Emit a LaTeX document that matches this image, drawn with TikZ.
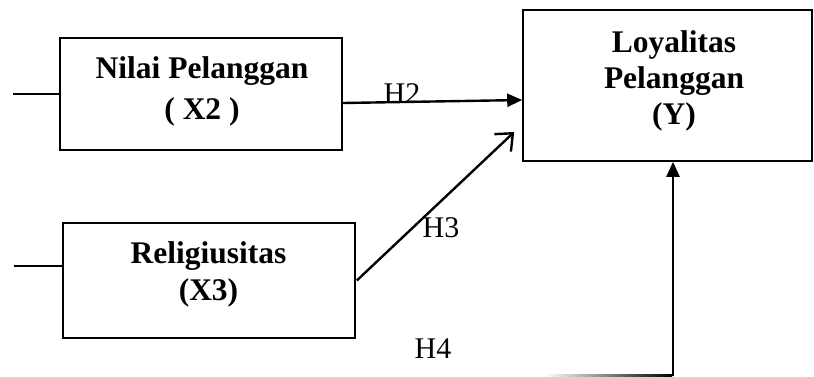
\documentclass[tikz,border=0pt]{standalone}
\usepackage{fontspec}
\setmainfont{Liberation Serif}
\usetikzlibrary{arrows.meta,calc}
\tikzset{
  box/.style={draw=black, line width=1.6pt, inner sep=0pt, fill=none},
  boxtxt/.style={font=\fontsize{31.5}{36}\selectfont\bfseries, anchor=base, inner sep=0pt},
  hlbl/.style={font=\fontsize{30}{34}\selectfont, anchor=base, inner sep=0pt},
  stub/.style={line width=1.3pt},
  farrow/.style={line width=2.4pt, -{Triangle[length=15pt,width=13pt]}},
  oarrow/.style={line width=2.4pt, -{Straight Barb[length=14pt,width=24pt,line width=2.4pt]}}
}
\begin{document}
\begin{tikzpicture}[x=1pt,y=-1pt]
\useasboundingbox (0,0) rectangle (814,376);
% boxes
\node[box, minimum width=282pt, minimum height=112pt] (x2) at (201,94) {};
\node[box, minimum width=292pt, minimum height=115pt] (x3) at (209,280.5) {};
\node[box, minimum width=289pt, minimum height=151pt] (y) at (667.5,85.5) {};
% box texts
\node[boxtxt] (x2a) at (202,78) {Nilai Pelanggan};
\node[boxtxt] (x2b) at (202,119) {( X2 )};
\node[boxtxt] (x3a) at (208.5,263) {Religiusitas};
\node[boxtxt] (x3b) at (208.5,300) {(X3)};
\node[boxtxt] (ya) at (674,52) {Loyalitas};
\node[boxtxt] (yb) at (674,88) {Pelanggan};
\node[boxtxt] (yc) at (674,124) {(Y)};
% hypothesis labels
\node[hlbl] (h2) at (402,103) {H2};
\node[hlbl] (h3) at (441,237) {H3};
\node[hlbl] (h4) at (433,358) {H4};
% stubs
\coordinate (s2) at (13,94);
\coordinate (s3) at (14,266);
\draw[stub] (s2) -- (x2.west);
\draw[stub] (s3) -- ($(x3.west)+(0,-14.5)$);
% arrows
\draw[farrow] ($(x2.east)+(0,9)$) -- ($(y.west)+(0,14.5)$);
\draw[oarrow] ($(x3.east)+(1,0)$) -- ($(y.west)+(-8,46.5)$);
\coordinate (vb) at (673,376);
\draw[farrow] (vb) -- ($(y.south)+(5.5,0)$);
% faded bottom line
\coordinate (bl) at (545,374);
\shade[left color=white, right color=black] (bl) rectangle (672,376);
\end{tikzpicture}
\end{document}
